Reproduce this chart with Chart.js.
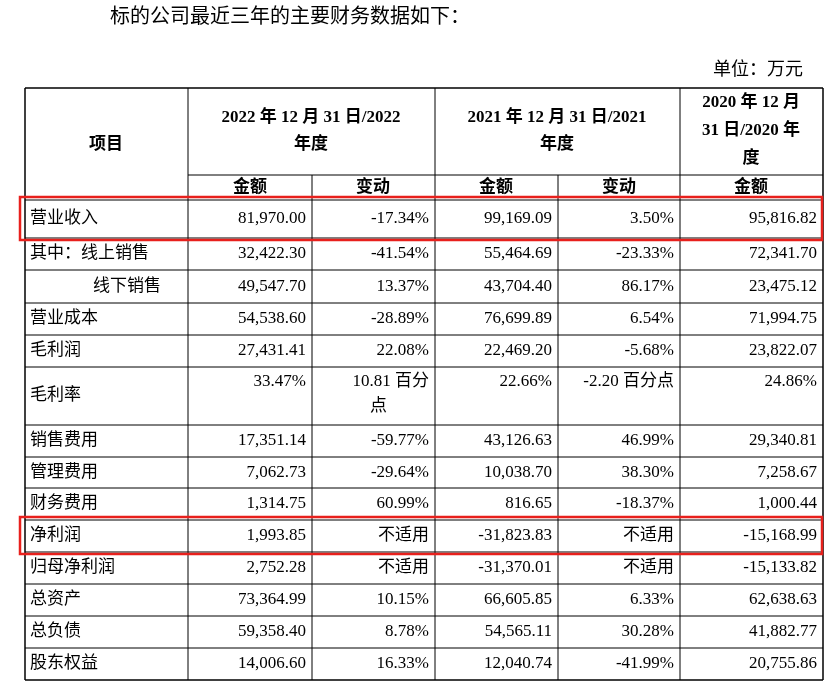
<!DOCTYPE html>
<html><head><meta charset="utf-8">
<script src="https://cdn.jsdelivr.net/npm/chart.js@4/dist/chart.umd.min.js"></script>
<style>html,body{margin:0;padding:0;background:#fff}#w{width:838px;height:684px}</style>
</head><body><div id="w"><canvas id="c"></canvas></div>
<script>
const items=["营业收入","其中：线上销售","线下销售","营业成本","毛利润","毛利率","销售费用","管理费用","财务费用","净利润","归母净利润","总资产","总负债","股东权益"];
const amount2022=["81,970.00","32,422.30","49,547.70","54,538.60","27,431.41","33.47%","17,351.14","7,062.73","1,314.75","1,993.85","2,752.28","73,364.99","59,358.40","14,006.60"];
const change2022=["-17.34%","-41.54%","13.37%","-28.89%","22.08%","10.81 百分|点","-59.77%","-29.64%","60.99%","不适用","不适用","10.15%","8.78%","16.33%"];
const amount2021=["99,169.09","55,464.69","43,704.40","76,699.89","22,469.20","22.66%","43,126.63","10,038.70","816.65","-31,823.83","-31,370.01","66,605.85","54,565.11","12,040.74"];
const change2021=["3.50%","-23.33%","86.17%","6.54%","-5.68%","-2.20 百分点","46.99%","38.30%","-18.37%","不适用","不适用","6.33%","30.28%","-41.99%"];
const amount2020=["95,816.82","72,341.70","23,475.12","71,994.75","23,822.07","24.86%","29,340.81","7,258.67","1,000.44","-15,168.99","-15,133.82","62,638.63","41,882.77","20,755.86"];
const highlighted=["营业收入","净利润"];

const colX=[25,188,312,435,558,680,823];
const rowY=[200,238,270,303,335,367,425,457,488,520,552,584,616,648,680];
const F='"Liberation Serif","Noto Sans CJK SC",serif';

const tablePlugin={id:'table',afterDraw(ch){
  const c=ch.ctx,xs=ch.scales.x,ys=ch.scales.y;
  const X=v=>xs.getPixelForValue(v),Y=v=>ys.getPixelForValue(v);
  c.save();c.fillStyle='#000';c.textBaseline='middle';
  c.font='20px '+F;c.textAlign='left';c.fillText('标的公司最近三年的主要财务数据如下：',X(110),Y(18));
  c.font='18px '+F;c.textAlign='right';c.fillText('单位：万元',X(803),Y(70));
  c.strokeStyle='#000';
  const line=(x1,y1,x2,y2,w)=>{c.lineWidth=w;c.beginPath();c.moveTo(X(x1),Y(y1));c.lineTo(X(x2),Y(y2));c.stroke();};
  line(25,88,823,88,1.5);line(25,680,823,680,1.5);
  line(188,175,823,175,1);line(25,200,823,200,1);
  rowY.slice(1,-1).forEach(y=>line(25,y,823,y,1));
  colX.forEach((x,i)=>{const y0=(i==2||i==4)?175:88;line(x,y0,x,680,(i==0||i==6)?1.5:1);});
  c.font='bold 17px '+F;c.textAlign='center';
  c.fillText('项目',X(106),Y(145));
  c.fillText('2022 年 12 月 31 日/2022',X(311),Y(118));c.fillText('年度',X(311),Y(145));
  c.fillText('2021 年 12 月 31 日/2021',X(557),Y(118));c.fillText('年度',X(557),Y(145));
  c.fillText('2020 年 12 月',X(751),Y(103));c.fillText('31 日/2020 年',X(751),Y(131));c.fillText('度',X(751),Y(159));
  [['金额',250],['变动',373],['金额',496],['变动',619],['金额',751]].forEach(([t,x])=>c.fillText(t,X(x),Y(188)));
  c.font='17px '+F;
  const cols=[amount2022,change2022,amount2021,change2021,amount2020];
  items.forEach((it,i)=>{
    const top=rowY[i],bot=rowY[i+1],mid=(top+bot)/2;
    c.textAlign='left';
    c.fillText(it,X(it==='线下销售'?93:30),Y(mid));
    cols.forEach((arr,k)=>{
      const v=arr[k*0+i];const xr=colX[k+2]-6;
      if(v.includes('|')){const p=v.split('|');c.textAlign='right';c.fillText(p[0],X(xr),Y(top+15));c.textAlign='left';c.fillText(p[1],X(colX[k+1]+58),Y(top+40));}
      else{c.textAlign='right';c.fillText(v,X(xr),Y(it==='毛利率'?top+15:mid));}
    });
    if(highlighted.includes(it)){c.strokeStyle='#e8201c';c.lineWidth=2.5;c.strokeRect(X(20),Y(top-3),X(822)-X(20),Y(bot+2)-Y(top-3));c.strokeStyle='#000';}
  });
  c.restore();
}};
new Chart(document.getElementById('c'),{type:'scatter',data:{datasets:[{data:[]}]},
 options:{responsive:true,maintainAspectRatio:false,animation:false,layout:{padding:0},
 plugins:{legend:{display:false},tooltip:{enabled:false}},
 scales:{x:{type:'linear',min:0,max:838,display:false},y:{type:'linear',min:0,max:684,reverse:true,display:false}}},
 plugins:[tablePlugin]});
</script></body></html>
